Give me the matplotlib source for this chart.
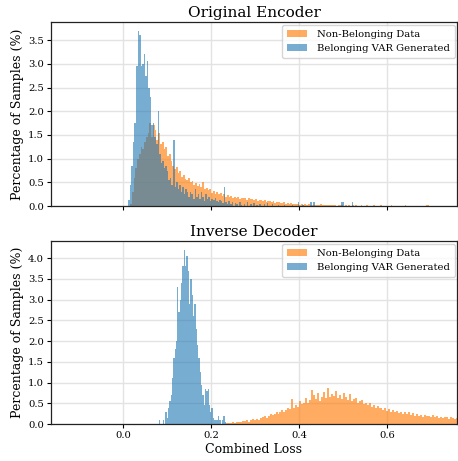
import numpy as np
import matplotlib
matplotlib.use("Agg")
import matplotlib.pyplot as plt

# ---------------- data (bin heights in % of samples) ----------------
titles = ["Original Encoder", "Inverse Decoder"]
series_labels = ["Non-Belonging Data", "Belonging VAR Generated"]

# Top panel: Non-Belonging (orange), bins of width 0.004 starting at 0.016
enc_nonbel_start = 0.016
enc_nonbel_width = 0.004
enc_nonbel = [
    0.05, 0.3, 0.6, 0.8, 1.0,
    1.1, 1.25, 1.2, 1.35, 1.45,
    1.55, 1.75, 1.45, 1.7, 1.6,
    1.4, 1.55, 1.3, 1.35, 1.2,
    1.25, 1.05, 1.1, 0.95, 0.85,
    0.78, 0.82, 0.7, 0.75, 0.62,
    0.65, 0.58, 0.55, 0.6, 0.5,
    0.52, 0.45, 0.48, 0.42, 0.46,
    0.4, 0.5, 0.36, 0.38, 0.33,
    0.35, 0.28, 0.32, 0.26, 0.3,
    0.25, 0.28, 0.22, 0.26, 0.2,
    0.24, 0.19, 0.22, 0.18, 0.2,
    0.17, 0.2, 0.15, 0.18, 0.16,
    0.17, 0.13, 0.16, 0.14, 0.15,
    0.12, 0.15, 0.11, 0.13, 0.12,
    0.1, 0.12, 0.09, 0.11, 0.1,
    0.08, 0.1, 0.07, 0.09, 0.08,
    0.07, 0.06, 0.08, 0.05, 0.06,
    0.05, 0.06, 0.04, 0.05, 0.04,
    0.04, 0.03, 0.05, 0.03, 0.04,
    0.03, 0.04, 0.02, 0.03, 0.03,
    0.02, 0.03, 0.02, 0.04, 0.02,
    0.02, 0.03, 0.02, 0.02, 0.03,
    0.02, 0.02, 0.01, 0.03, 0.02,
    0.02, 0.01, 0.02, 0.01, 0.02,
    0.01, 0.02, 0.0, 0.02, 0.01,
    0.01, 0.02, 0.0, 0.01, 0.02, 0.0, 0.01, 0.0, 0.02, 0.01,
    0.0, 0.01, 0.02, 0.0, 0.01, 0.0, 0.0, 0.01, 0.02, 0.0,
    0.01, 0.0, 0.0, 0.01, 0.0, 0.0, 0.02, 0.0, 0.0, 0.0,
    0.0, 0.01, 0.0, 0.0, 0.0, 0.0, 0.0, 0.0, 0.02, 0.02,
    0.0, 0.0, 0.0, 0.0, 0.0, 0.0, 0.01, 0.0, 0.0, 0.01,
    0.0, 0.01, 0.0, 0.0, 0.0, 0.0,
]

# Top panel: Belonging VAR Generated (blue), bins of width 0.0035 starting at 0.012
enc_bel_start = 0.012
enc_bel_width = 0.0035
enc_bel = [
    0.12, 0.45, 0.85, 1.35, 1.75, 2.95, 3.70, 3.60, 2.95, 3.00,
    3.20, 2.75, 3.05, 2.50, 2.30, 1.70, 1.75, 1.45, 1.30, 2.00,
    1.10, 0.90, 0.95, 0.80, 0.85, 0.75, 0.55, 0.60, 0.45, 1.40,
    0.40, 0.50, 0.35, 0.45, 0.30, 0.40, 0.25, 0.35, 0.30, 0.20,
    0.30, 0.25, 0.15, 0.35, 0.20, 0.25, 0.15, 0.30, 0.20, 0.10,
    0.25, 0.15, 0.20, 0.10, 0.15, 0.12, 0.18, 0.10, 0.08, 0.12,
    0.10, 0.06, 0.40, 0.08, 0.05, 0.10, 0.04, 0.08, 0.0, 0.06,
    0.05, 0.0, 0.08, 0.03, 0.0, 0.05, 0.0, 0.08, 0.0, 0.04,
    0.0, 0.06, 0.0, 0.03, 0.0, 0.05, 0.0, 0.0, 0.04, 0.0,
    0.07, 0.0, 0.0, 0.04, 0.0, 0.0, 0.0, 0.03, 0.0, 0.0,
    0.0, 0.03, 0.0, 0.0, 0.0, 0.0, 0.02, 0.0, 0.0, 0.0,
    0.08, 0.0, 0.0, 0.03, 0.0, 0.0, 0.0, 0.0, 0.08, 0.0,
    0.08, 0.0, 0.0, 0.0, 0.0, 0.0, 0.0, 0.0, 0.0, 0.0,
    0.0, 0.0, 0.0, 0.0, 0.0, 0.0, 0.0, 0.0, 0.09, 0.08,
    0.0, 0.0, 0.0, 0.0, 0.0, 0.08, 0.0, 0.0, 0.0, 0.0,
]

# Bottom panel: Non-Belonging (orange), bins of width 0.0045 starting at 0.234
dec_nonbel_start = 0.234
dec_nonbel_width = 0.0045
dec_nonbel = [
    0.02, 0.03, 0.02, 0.04, 0.03, 0.05,
    0.06, 0.05, 0.08, 0.07, 0.1, 0.06,
    0.1, 0.12, 0.09, 0.13, 0.11, 0.15,
    0.16, 0.2, 0.15, 0.19, 0.24, 0.22,
    0.25, 0.3, 0.24, 0.28, 0.35, 0.3,
    0.33, 0.4, 0.36, 0.6, 0.38, 0.45,
    0.42, 0.55, 0.48, 0.52, 0.62, 0.5,
    0.58, 0.82, 0.7, 0.6, 0.75, 0.55,
    0.65, 0.78, 0.62, 0.88, 0.65, 0.72,
    0.68, 0.8, 0.62, 0.7, 0.6, 0.75,
    0.65, 0.58, 0.72, 0.55, 0.6, 0.62,
    0.5, 0.55, 0.58, 0.48, 0.52, 0.45,
    0.5, 0.42, 0.46, 0.4, 0.44, 0.38,
    0.4, 0.35, 0.38, 0.32, 0.36, 0.3,
    0.34, 0.28, 0.32, 0.26, 0.3, 0.25,
    0.28, 0.24, 0.3, 0.22, 0.26, 0.2,
    0.24, 0.2, 0.22, 0.18, 0.23, 0.19,
    0.2, 0.17, 0.22, 0.16, 0.19, 0.15,
    0.18, 0.14, 0.17, 0.16, 0.13, 0.17,
    0.15, 0.12, 0.14,
]

# Bottom panel: Belonging VAR Generated (blue), bins of width 0.003 starting at 0.081
dec_bel_start = 0.081
dec_bel_width = 0.003
dec_bel = [
    0.1, 0.0, 0.0, 0.1, 0.0, 0.3, 0.15, 0.4, 0.55, 0.7,
    1.1, 1.6, 1.8, 2.0, 3.3, 2.7, 3.0, 3.4, 3.8, 4.2,
    3.8, 4.05, 3.7, 2.9, 3.5, 3.1, 2.6, 2.9, 2.3, 1.9,
    1.6, 1.25, 0.95, 0.7, 0.45, 0.85, 0.8, 0.85, 0.45, 0.3,
    0.38, 0.15, 0.1, 0.1, 0.1, 0.2, 0.1, 0.0, 0.1, 0.2,
    0.05,
]

x_ticks = [0.0, 0.2, 0.4, 0.6]
enc_yticks = [0.0, 0.5, 1.0, 1.5, 2.0, 2.5, 3.0, 3.5]
dec_yticks = [0.0, 0.5, 1.0, 1.5, 2.0, 2.5, 3.0, 3.5, 4.0]

# ---------------- plotting ----------------
plt.rcParams['font.family'] = ['DejaVu Serif']

ORANGE = '#ff7f0e'
BLUE = '#1f77b4'


def draw_hist(ax, start, width, heights, color, alpha, label):
    heights = np.asarray(heights, dtype=float)
    edges = start + width * np.arange(len(heights) + 1)
    ax.hist(edges[:-1], bins=edges, weights=heights, color=color,
            alpha=alpha, label=label, linewidth=0)


fig = plt.figure(figsize=(4.58, 4.61), dpi=100)
ax1 = fig.add_axes([0.111, 0.553, 0.887, 0.399])
ax2 = fig.add_axes([0.111, 0.080, 0.887, 0.397], sharex=ax1)

panels = [
    (ax1, (enc_nonbel_start, enc_nonbel_width, enc_nonbel),
     (enc_bel_start, enc_bel_width, enc_bel), enc_yticks, 3.88),
    (ax2, (dec_nonbel_start, dec_nonbel_width, dec_nonbel),
     (dec_bel_start, dec_bel_width, dec_bel), dec_yticks, 4.41),
]

for i, (ax, nb, bl, yt, ytop) in enumerate(panels):
    ax.set_axisbelow(True)
    ax.grid(True, color='#e3e3e3', linewidth=1.0)
    draw_hist(ax, nb[0], nb[1], nb[2], ORANGE, 0.65, series_labels[0])
    draw_hist(ax, bl[0], bl[1], bl[2], BLUE, 0.6, series_labels[1])
    ax.set_title(titles[i], fontsize=11, pad=4)
    ax.set_ylabel('Percentage of Samples (%)', fontsize=9, labelpad=3)
    ax.set_yticks(yt)
    ax.set_ylim(0, ytop)
    ax.set_xlim(-0.164, 0.759)
    ax.set_xticks(x_ticks)
    ax.tick_params(labelsize=7.2, length=3, width=0.8, pad=2)
    for s in ax.spines.values():
        s.set_color('#222222')
        s.set_linewidth(0.9)
    leg = ax.legend(loc='upper right', fontsize=7.2, frameon=True,
                    fancybox=True, borderpad=0.5, handlelength=2.0,
                    handletextpad=1.0, borderaxespad=0.25)
    leg.get_frame().set_edgecolor('#cccccc')

ax1.tick_params(labelbottom=False)
ax2.set_xlabel('Combined Loss', fontsize=9, labelpad=2)

fig.savefig('out.png', dpi=100)
